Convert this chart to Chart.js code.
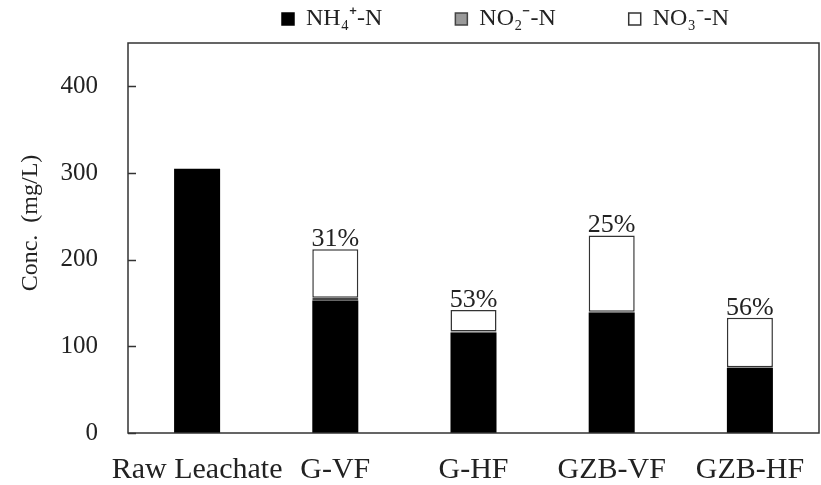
<!DOCTYPE html>
<html>
<head>
<meta charset="utf-8">
<script src="https://cdn.jsdelivr.net/npm/chart.js@4.4.0/dist/chart.umd.min.js"></script>
<style>
html,body{margin:0;padding:0;background:#fff;}
#wrap{width:821px;height:485px;position:relative;}
</style>
</head>
<body>
<div id="wrap"><canvas id="c" width="821" height="485"></canvas></div>
<script>
const categories = ["Raw Leachate", "G-VF", "G-HF", "GZB-VF", "GZB-HF"];
const nh4 = [305, 153, 116, 139, 75];
const no2 = [0, 3, 1, 1, 1];
const no3 = [0, 56, 25, 88, 57];
const removal = ["", "31%", "53%", "25%", "56%"];
const yTicks = [0, 100, 200, 300, 400];
const seriesNames = ["NH\u2084\u207A-N", "NO\u2082\u207B-N", "NO\u2083\u207B-N"];

const FONT = "'Liberation Serif', 'Times New Roman', serif";
const fills = ['#000', '#9a9a9a', '#fff'];
const strokes = ['#000', '#444', '#333'];
const LEG_PAD = 73;
const LEG_SIZE = 24;

function bw(ctx) {
  if (ctx.type === 'data') return ctx.raw > 0 ? 1.5 : 0;
  return 1.5;
}

const overlay = {
  id: 'overlay',
  afterDatasetsDraw(chart) {
    const ctx = chart.ctx;
    const a = chart.chartArea;
    const y = chart.scales.y;
    ctx.save();
    ctx.strokeStyle = '#333';
    ctx.lineWidth = 1.5;
    ctx.strokeRect(a.left, a.top, a.right - a.left, a.bottom - a.top);
    y.ticks.forEach(t => {
      const py = Math.round(y.getPixelForValue(t.value)) + 0.5;
      ctx.beginPath();
      ctx.moveTo(a.left, py);
      ctx.lineTo(a.left + 8, py);
      ctx.stroke();
    });
    const meta = chart.getDatasetMeta(2);
    ctx.fillStyle = '#222';
    ctx.font = "26px " + FONT;
    ctx.textAlign = 'center';
    ctx.textBaseline = 'alphabetic';
    meta.data.forEach((el, i) => {
      if (!removal[i]) return;
      ctx.fillText(removal[i], el.x, el.y - 3);
    });
    ctx.restore();
  }
};

const chart = new Chart(document.getElementById('c'), {
  type: 'bar',
  data: {
    labels: categories,
    datasets: [
      { label: seriesNames[0], data: nh4, backgroundColor: fills[0], borderColor: strokes[0], borderWidth: 0 },
      { label: seriesNames[1], data: no2, backgroundColor: fills[1], borderColor: strokes[1], borderWidth: bw, borderSkipped: false },
      { label: seriesNames[2], data: no3, backgroundColor: fills[2], borderColor: strokes[2], borderWidth: bw, borderSkipped: false }
    ]
  },
  options: {
    responsive: false,
    animation: false,
    devicePixelRatio: 1,
    layout: { padding: { left: 0, right: 2, top: 0, bottom: 0 } },
    datasets: { bar: { categoryPercentage: 1, barPercentage: 0.333 } },
    plugins: {
      tooltip: { enabled: false },
      legend: {
        position: 'top',
        align: 'start',
        labels: {
          boxWidth: 12, boxHeight: 12,
          padding: LEG_PAD,
          color: '#222',
          font: { family: FONT, size: LEG_SIZE },
          generateLabels(chart) {
            return chart.data.datasets.map((ds, i) => ({
              text: ds.label,
              fillStyle: fills[i],
              strokeStyle: strokes[i],
              lineWidth: 1.5,
              hidden: false,
              datasetIndex: i,
              fontColor: '#222'
            }));
          }
        }
      }
    },
    scales: {
      x: {
        stacked: true,
        grid: { display: false, drawTicks: false },
        border: { display: false },
        ticks: { color: '#222', font: { family: FONT, size: 30 }, padding: 19, maxRotation: 0, autoSkip: false },
        afterFit(s) { s.height = 52; s.paddingLeft = 0; s.paddingRight = 0; }
      },
      y: {
        stacked: true,
        min: 0, max: 450,
        grid: { display: false, drawTicks: false },
        border: { display: false },
        afterBuildTicks(s) { s.ticks = yTicks.map(v => ({ value: v })); },
        ticks: { color: '#222', font: { family: FONT, size: 25 }, padding: 30 },
        title: { display: true, text: '     Conc.  (mg/L)', color: '#222', font: { family: FONT, size: 24 }, padding: { top: 16, bottom: 0 } },
        afterFit(s) { s.width = 128; s.paddingTop = 0; s.paddingBottom = 0; }
      }
    }
  },
  plugins: [overlay]
});

// Keep the legend compact in height and place it like the reference
const lg = chart.legend;
const origFit = lg.fit;
lg.fit = function () { origFit.call(this); this.height = 43; };
const origDraw = lg._draw;
lg._draw = function () {
  const c = this.ctx;
  c.save();
  c.translate(282 - LEG_PAD, 19 - (LEG_PAD + LEG_SIZE / 2));
  origDraw.apply(this, arguments);
  c.restore();
};
chart.update();
</script>
</body>
</html>
